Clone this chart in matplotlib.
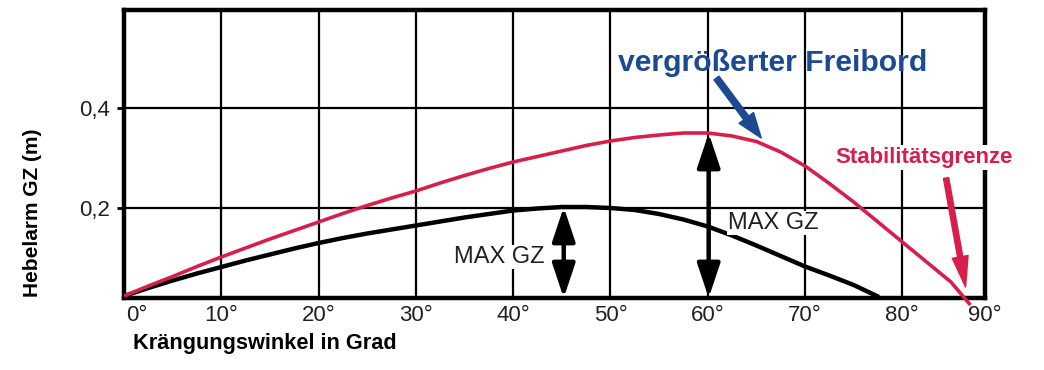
import numpy as np
from matplotlib import pyplot as plt

plt.rcParams['font.family'] = ['Liberation Sans', 'DejaVu Sans']

# curve values (heel angle in deg, GZ in m)
angle_base = [0, 2.5, 5, 7.5, 10, 12.5, 15, 17.5, 20, 22.5, 25, 27.5, 30, 32.5, 35, 37.5, 40, 42.5,
              45, 47.5, 50, 52.5, 55, 57.5, 60, 62.5, 65, 67.5, 70, 72.5, 75, 77.6]
gz_base = [0.024, 0.040, 0.055, 0.069, 0.082, 0.095, 0.107, 0.119, 0.130, 0.140, 0.149, 0.157, 0.165,
           0.173, 0.181, 0.188, 0.195, 0.199, 0.202, 0.202, 0.200, 0.196, 0.188, 0.177, 0.163, 0.145,
           0.125, 0.104, 0.083, 0.065, 0.046, 0.022]

angle_freeboard = [0, 2.5, 5, 7.5, 10, 12.5, 15, 17.5, 20, 22.5, 25, 27.5, 30, 32.5, 35, 37.5, 40, 42.5,
                   45, 47.5, 50, 52.5, 55, 57.5, 60, 62.5, 65, 67.5, 70, 72.5, 75, 77.5, 80, 82.5, 85, 87.0]
gz_freeboard = [0.024, 0.044, 0.063, 0.083, 0.102, 0.120, 0.138, 0.155, 0.172, 0.189, 0.205, 0.220,
                0.234, 0.250, 0.265, 0.279, 0.292, 0.303, 0.314, 0.325, 0.334, 0.341, 0.346, 0.350,
                0.350, 0.344, 0.333, 0.312, 0.284, 0.249, 0.212, 0.172, 0.132, 0.092, 0.052, 0.006]

# max GZ markers: (angle, GZ)
max_base = (45.2, 0.202)
max_freeboard = (60.1, 0.350)

xgrid = np.arange(10, 81, 10)
xlabel_pos = [1.3, 10, 20, 30, 40, 50, 60, 70, 80, 88.5]
xlabel_txt = ['0°', '10°', '20°', '30°', '40°', '50°', '60°', '70°', '80°', '90°']
yticks = [0.2, 0.4]
ylabels = ['0,2', '0,4']

red = '#d81e4b'
blue = '#1b4a93'
txt = '#231f20'

fig = plt.figure(figsize=(10.44, 3.70), dpi=100)
ax = fig.add_axes([124/1044, 1 - 298/370, (985 - 124)/1044, (298 - 10)/370])
ax.set_xlim(0, 88.3)
ax.set_ylim(0.02, 0.596)

ax.set_xticks(xlabel_pos, xlabel_txt)
ax.tick_params(axis='x', length=0, pad=5, labelsize=16, labelcolor=txt)
ax.set_yticks(yticks, ylabels)
ax.tick_params(axis='y', length=5, width=2, pad=5, labelsize=16, labelcolor=txt)
ax.grid(True, axis='y', color='black', linewidth=1.6)
ax.vlines(xgrid, 0.02, 0.596, color='black', linewidth=1.6, zorder=0.5)
ax.set_axisbelow(True)
for sp in ax.spines.values():
    sp.set_linewidth(3.2)

ax.plot(angle_base, gz_base, color='black', linewidth=3.2, solid_capstyle='butt', zorder=3, clip_on=False)
ax.plot(angle_freeboard, gz_freeboard, color=red, linewidth=2.6, solid_capstyle='butt', zorder=3, clip_on=False)

# double arrows MAX GZ
for xa, ya in (max_base, max_freeboard):
    ax.annotate('', xy=(xa, ya), xytext=(xa, 0.02),
                arrowprops=dict(arrowstyle='<|-|>,head_length=1.5,head_width=0.5', mutation_scale=14,
                                color='black', linewidth=3.2, shrinkA=0, shrinkB=0), zorder=4)

ax.text(38.6, 0.102, 'MAX GZ', ha='center', va='center', fontsize=17, color=txt,
        bbox=dict(facecolor='white', edgecolor='none', pad=0.5), zorder=3)
ax.text(66.7, 0.170, 'MAX GZ', ha='center', va='center', fontsize=17, color=txt,
        bbox=dict(facecolor='white', edgecolor='none', pad=0.5), zorder=3)

ax.text(66.7, 0.474, 'vergrößerter Freibord', ha='center', va='baseline', fontsize=21.7,
        fontweight='bold', color=blue, zorder=4)
ax.annotate('', xy=(65.5, 0.34), xytext=(60.9, 0.46),
            arrowprops=dict(arrowstyle='simple,head_length=1.8,head_width=1.3,tail_width=0.45',
                            mutation_scale=10, color=blue, shrinkA=0, shrinkB=0), zorder=4)

ax.text(82.2, 0.29, 'Stabilitätsgrenze', ha='center', va='baseline', fontsize=16,
        fontweight='bold', color=red, zorder=4,
        bbox=dict(facecolor='white', edgecolor='none', pad=1.5))
ax.annotate('', xy=(86.5, 0.042), xytext=(84.5, 0.26),
            arrowprops=dict(arrowstyle='simple,head_length=2.2,head_width=1.15,tail_width=0.38',
                            mutation_scale=10, color=red, shrinkA=0, shrinkB=0), zorder=4,
            annotation_clip=False)

fig.text(133/1044, 1 - 343/370, 'Krängungswinkel in Grad', ha='left', va='center',
         fontsize=15.7, fontweight='bold', color='black')
fig.text(33/1044, 1 - 213/370, 'Hebelarm GZ (m)', ha='center', va='center', rotation=90,
         fontsize=15, fontweight='bold', color='black')

fig.savefig('out.png', dpi=100)
plt.close(fig)
